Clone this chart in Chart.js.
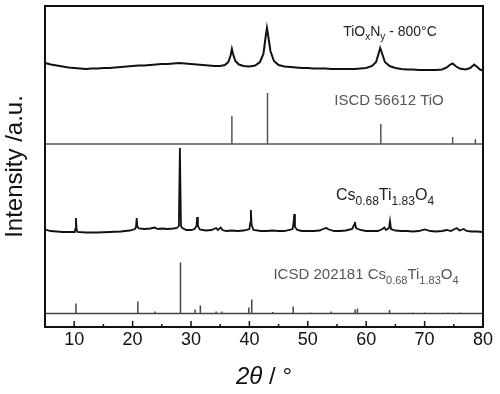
<!DOCTYPE html>
<html>
<head>
<meta charset="utf-8">
<script src="https://cdn.jsdelivr.net/npm/chart.js@4.4.1/dist/chart.umd.min.js"></script>
<style>
  html, body { margin: 0; padding: 0; background: #fff; }
  #wrap { width: 500px; height: 394px; }
</style>
</head>
<body>
<div id="wrap"><canvas id="xrdChart"></canvas></div>
<script>
// measured scans: [2theta, intensity (a.u., already stacked)]
const tiOxNyScan = [
  [5,264],[6,262.5],[7,261.5],[8,260.5],[9,259.5],[10,259],[11,258.5],[12,258],[13,258.5],[14,258.5],
  [15,259],[16,259],[17,259.5],[18,260],[19,260.5],[20,261],[21,261.5],[22,261.5],[23,262],[24,262.5],
  [25,263],[26,263],[27,263.5],[28,264],[29,263.5],[30,263],[31,262.5],[32,262],[33,261.5],[34,261],
  [35,261],[35.8,262],[36.4,265],[36.8,272],[37.0,278],[37.2,273],[37.6,266],[38.2,262.5],[39,261],[40,260.5],
  [41,261.5],[41.8,265],[42.4,273],[42.8,291],[43.0,299],[43.2,292],[43.6,276],[44.2,266],[45,262],[46,260.5],
  [47,260],[48,259.5],[49,259],[50,259],[51,258.5],[52,258.5],[53,258.5],[54,258],[55,258],[56,258],
  [57,258],[58,258],[59,258.5],[60,259],[61,261],[61.7,265],[62.1,273],[62.4,279],[62.7,274],[63.2,265],
  [64,261],[65,259],[66,258],[67,257.5],[68,257.5],[69,257],[70,257],[71,257],[72,257],[73,257.5],
  [73.8,259.5],[74.4,262.5],[74.8,263.5],[75.3,261],[76,258.5],[77,257.5],[77.8,259],[78.5,262.5],[79,260],[79.5,257.5],
  [80,256.5]
];

const csTiOScan = [
  [5,97.5],[6,96],[7,95.5],[8,95],[9,95],[10.1,95],[10.2,98],[10.3,109],[10.4,98],[10.55,95],
  [12,94.5],[14,94.5],[16,95],[18,95.5],[19.5,96.5],[20.4,98],[20.58,100],[20.7,109],[20.82,100],[21.1,98.5],
  [22,98],[23,98.5],[23.8,99.5],[24.3,98],[25,98.5],[26,98],[27,98.5],[27.6,99],[27.92,101],[28.1,179],
  [28.28,101],[28.5,99],[29.2,97],[30,97],[30.6,98],[30.95,101],[31.05,110],[31.18,101],[31.5,97.5],[32.5,96.5],
  [33.5,97],[34.3,99],[34.6,97],[35.1,99.5],[35.4,97],[36,96],[37,96.5],[38,96],[39,96.5],[40,98],
  [40.14,104],[40.25,117],[40.38,102],[40.7,97],[42,96],[43,96],[44,96.5],[45,96],[46,96],[47.4,98],
  [47.56,104],[47.68,113],[47.8,100],[48.2,97],[49,96],[50,96],[51,96],[52,96.5],[52.8,98.5],[53.2,99],
  [53.6,97.5],[54.5,96],[55.5,96],[56.5,96.5],[57.6,98],[57.92,102],[58.05,105],[58.25,99],[59,97],[60,96],
  [61,96],[62,96],[62.8,98],[63.1,99.5],[63.4,97],[63.9,99],[64.08,106],[64.25,98],[65,96.5],[66,96],
  [67,96],[68,95.5],[69,96],[70,97.5],[71,96],[72,95.5],[73,96],[73.8,97],[74.5,96],[75.5,99],
  [76,96.5],[76.7,98],[77.2,96],[78,95.5],[79,95.5],[80,95]
];

// reference patterns (stick positions / heights)
const tioBase = 183;
const tioPeaks = [37.0, 43.1, 62.5, 74.8, 78.7];
const tioHeights = [28, 51, 20, 7, 5];

const icsdBase = 13.5;
const icsdPeaks = [10.3, 20.9, 23.8, 28.2, 30.7, 31.6, 34.3, 35.3, 39.9, 40.4, 44.0, 47.5, 50.5, 54.0, 58.1, 58.5, 64.0, 68.0, 70.0, 74.0, 76.0];
const icsdHeights = [10, 12, 2, 51, 4, 8, 2, 2, 6, 14, 1.5, 7, 1, 2, 4, 5, 3.5, 1, 1, 1, 1];

const xTicks = [10, 20, 30, 40, 50, 60, 70, 80];
const xMinor = [5, 15, 25, 35, 45, 55, 65, 75];

function sticks(base, peaks, heights) {
  let pts = [{ x: 5, y: base }];
  peaks.forEach((p, i) => {
    pts.push({ x: p, y: base }, { x: p, y: base + heights[i] }, { x: p, y: base });
  });
  pts.push({ x: 80, y: base });
  return pts;
}

const FONT = '"Liberation Sans", Arial, sans-serif';

// text with subscripts: parts = [[text, isSub], ...]
function drawRich(ctx, parts, cx, y, size, color) {
  const sub = Math.round(size * 0.72);
  let w = 0;
  parts.forEach(([t, s]) => {
    ctx.font = (s ? sub : size) + 'px ' + FONT;
    w += ctx.measureText(t).width;
  });
  let x = cx - w / 2;
  ctx.fillStyle = color;
  ctx.textAlign = 'left';
  ctx.textBaseline = 'alphabetic';
  parts.forEach(([t, s]) => {
    ctx.font = (s ? sub : size) + 'px ' + FONT;
    ctx.fillText(t, x, s ? y + size * 0.3 : y);
    x += ctx.measureText(t).width;
  });
}

const decorations = {
  id: 'decorations',
  afterDraw(chart) {
    const ctx = chart.ctx;
    const a = chart.chartArea;
    const xs = chart.scales.x;
    ctx.save();

    // inward ticks on the bottom axis
    ctx.strokeStyle = '#111';
    ctx.lineWidth = 1.5;
    xTicks.forEach(v => {
      const px = xs.getPixelForValue(v);
      ctx.beginPath(); ctx.moveTo(px, a.bottom); ctx.lineTo(px, a.bottom - 6); ctx.stroke();
    });
    xMinor.forEach(v => {
      const px = xs.getPixelForValue(v);
      ctx.beginPath(); ctx.moveTo(px, a.bottom); ctx.lineTo(px, a.bottom - 3); ctx.stroke();
    });

    // frame
    ctx.lineWidth = 2;
    ctx.strokeRect(a.left, a.top, a.right - a.left, a.bottom - a.top);

    // series labels
    drawRich(ctx, [['TiO', 0], ['x', 1], ['N', 0], ['y', 1], [' - 800°C', 0]], 390, 36, 14, '#222');
    drawRich(ctx, [['ISCD 56612 TiO', 0]], 389, 105, 15, '#555');
    drawRich(ctx, [['Cs', 0], ['0.68', 1], ['Ti', 0], ['1.83', 1], ['O', 0], ['4', 1]], 385, 200, 16, '#222');
    drawRich(ctx, [['ICSD 202181 Cs', 0], ['0.68', 1], ['Ti', 0], ['1.83', 1], ['O', 0], ['4', 1]], 366, 279, 15, '#555');

    // axis titles
    ctx.fillStyle = '#111';
    ctx.textBaseline = 'middle';
    ctx.font = 'italic 24px ' + FONT;
    const t1 = '2θ';
    const w1 = ctx.measureText(t1).width;
    ctx.font = '24px ' + FONT;
    const t2 = ' / °';
    const w2 = ctx.measureText(t2).width;
    let sx = (a.left + a.right) / 2 - (w1 + w2) / 2;
    ctx.textAlign = 'left';
    ctx.font = 'italic 24px ' + FONT;
    ctx.fillText(t1, sx, 377);
    ctx.font = '24px ' + FONT;
    ctx.fillText(t2, sx + w1, 377);

    ctx.translate(15, (a.top + a.bottom) / 2);
    ctx.rotate(-Math.PI / 2);
    ctx.textAlign = 'center';
    ctx.fillText('Intensity /a.u.', 0, 0);
    ctx.restore();
  }
};

const ctx = document.getElementById('xrdChart').getContext('2d');
new Chart(ctx, {
  type: 'line',
  data: {
    datasets: [
      { label: 'TiOxNy - 800°C', data: tiOxNyScan.map(p => ({ x: p[0], y: p[1] })), borderColor: '#111', borderWidth: 2 },
      { label: 'ISCD 56612 TiO', data: sticks(tioBase, tioPeaks, tioHeights), borderColor: '#555', borderWidth: 1.5 },
      { label: 'Cs0.68Ti1.83O4', data: csTiOScan.map(p => ({ x: p[0], y: p[1] })), borderColor: '#111', borderWidth: 1.8 },
      { label: 'ICSD 202181 Cs0.68Ti1.83O4', data: sticks(icsdBase, icsdPeaks, icsdHeights), borderColor: '#444', borderWidth: 1.5 }
    ]
  },
  options: {
    responsive: true,
    maintainAspectRatio: false,
    animation: false,
    layout: { padding: { top: 6, right: 17, left: 0, bottom: 0 } },
    elements: { point: { radius: 0 }, line: { tension: 0 } },
    scales: {
      x: {
        type: 'linear',
        min: 5,
        max: 80,
        afterBuildTicks: (scale) => { scale.ticks = xTicks.map(v => ({ value: v })); },
        afterFit: (scale) => { scale.height = 67; },
        ticks: { color: '#111', font: { size: 18, family: FONT }, padding: -6, maxRotation: 0 },
        grid: { display: false },
        border: { display: false }
      },
      y: {
        min: 0,
        max: 321,
        afterFit: (scale) => { scale.width = 45; },
        ticks: { display: false },
        grid: { display: false },
        border: { display: false }
      }
    },
    plugins: {
      legend: { display: false },
      tooltip: { enabled: false }
    }
  },
  plugins: [decorations]
});
</script>
</body>
</html>
